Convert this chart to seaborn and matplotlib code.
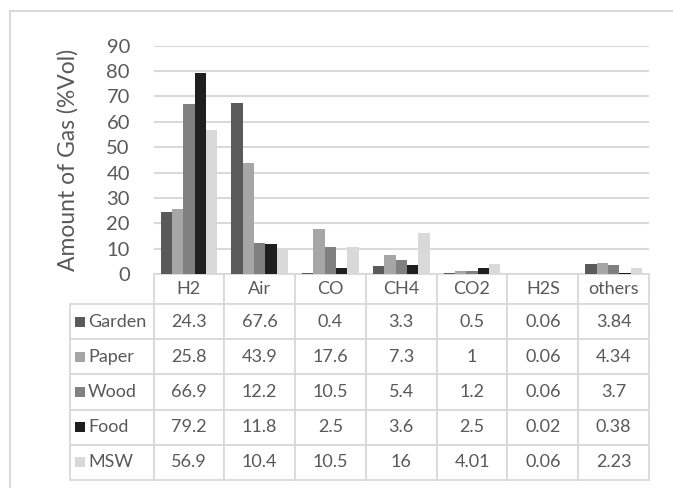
import numpy as np
import pandas as pd
import seaborn as sns
import matplotlib.pyplot as plt
from matplotlib.patches import Rectangle

# gas composition per feedstock (values from the data table)
gases = ['H2', 'Air', 'CO', 'CH4', 'CO2', 'H2S', 'others']
feeds = ['Garden', 'Paper', 'Wood', 'Food', 'MSW']
garden = [24.3, 67.6, 0.4, 3.3, 0.5, 0.06, 3.84]
paper = [25.8, 43.9, 17.6, 7.3, 1, 0.06, 4.34]
wood = [66.9, 12.2, 10.5, 5.4, 1.2, 0.06, 3.7]
food = [79.2, 11.8, 2.5, 3.6, 2.5, 0.02, 0.38]
msw = [56.9, 10.4, 10.5, 16, 4.01, 0.06, 2.23]
feed_colors = ['#5a5a5a', '#a6a6a6', '#808080', '#1f1f1f', '#d9d9d9']

series = [garden, paper, wood, food, msw]
rows = []
for f, vals in zip(feeds, series):
    for g, v in zip(gases, vals):
        rows.append({'gas': g, 'feed': f, 'value': v})
df = pd.DataFrame(rows)

sns.set_style('white')
plt.rcParams['font.family'] = ['Lato', 'DejaVu Sans']
txt = '#595959'
grid = '#d9d9d9'

W, H = 673, 488
fig = plt.figure(figsize=(W / 100, H / 100), dpi=100)
x0, x1, ytop, ybot = 153.5, 649, 45.7, 274
ax = fig.add_axes([x0 / W, 1 - ybot / H, (x1 - x0) / W, (ybot - ytop) / H])

sns.barplot(data=df, x='gas', y='value', hue='feed', palette=feed_colors,
            order=gases, hue_order=feeds, width=0.8, errorbar=None,
            linewidth=0, legend=False, ax=ax)

ax.set_ylim(0, 90)
ax.set_yticks(range(0, 100, 10))
ax.yaxis.grid(True, color=grid, linewidth=1.5)
ax.set_axisbelow(True)
for s in ax.spines.values():
    s.set_visible(False)
ax.tick_params(axis='y', length=0, pad=17, labelsize=14.5, labelcolor=txt)
ax.set_xticks([])
ax.set_xlabel('')
ax.set_ylabel('Amount of Gas (%Vol)', fontsize=16.5, color=txt, labelpad=20)

# data table under the chart (bbox covers the header + value cells)
cell_text = [[('%g' % v) for v in vals] for vals in series]
tx0 = 67
ty1 = 480
tab = ax.table(cellText=cell_text, rowLabels=feeds, colLabels=gases,
               cellLoc='center', rowLoc='left',
               bbox=[0, -(ty1 - ybot) / (ybot - ytop), 1,
                     (ty1 - ybot) / (ybot - ytop)])
tab.auto_set_font_size(False)
tab.set_fontsize(13)
colw = 1 / 7
for (r, c), cell in tab.get_celld().items():
    cell.set_edgecolor(grid)
    cell.set_linewidth(1.3)
    cell.get_text().set_color(txt)
    cell.set_width(colw if c >= 0 else (x0 - tx0) / (x1 - x0))
    cell.set_height(30 if r == 0 else 35)
    if c == -1:
        cell.PAD = 0.22

# legend keys in the row label cells
for i, col in enumerate(feed_colors):
    yc = ybot + 30 + 35 * i + 17.5
    fig.add_artist(Rectangle((75 / W, 1 - (yc + 5) / H), 10 / W, 10 / H,
                             transform=fig.transFigure, facecolor=col,
                             edgecolor='none'))

# outer chart frame
fig.add_artist(Rectangle((10 / W, -0.1), 1.1, 1 - 11 / H + 0.1,
                         transform=fig.transFigure, fill=False,
                         edgecolor=grid, linewidth=1.5))

fig.savefig('out.png', dpi=100)
